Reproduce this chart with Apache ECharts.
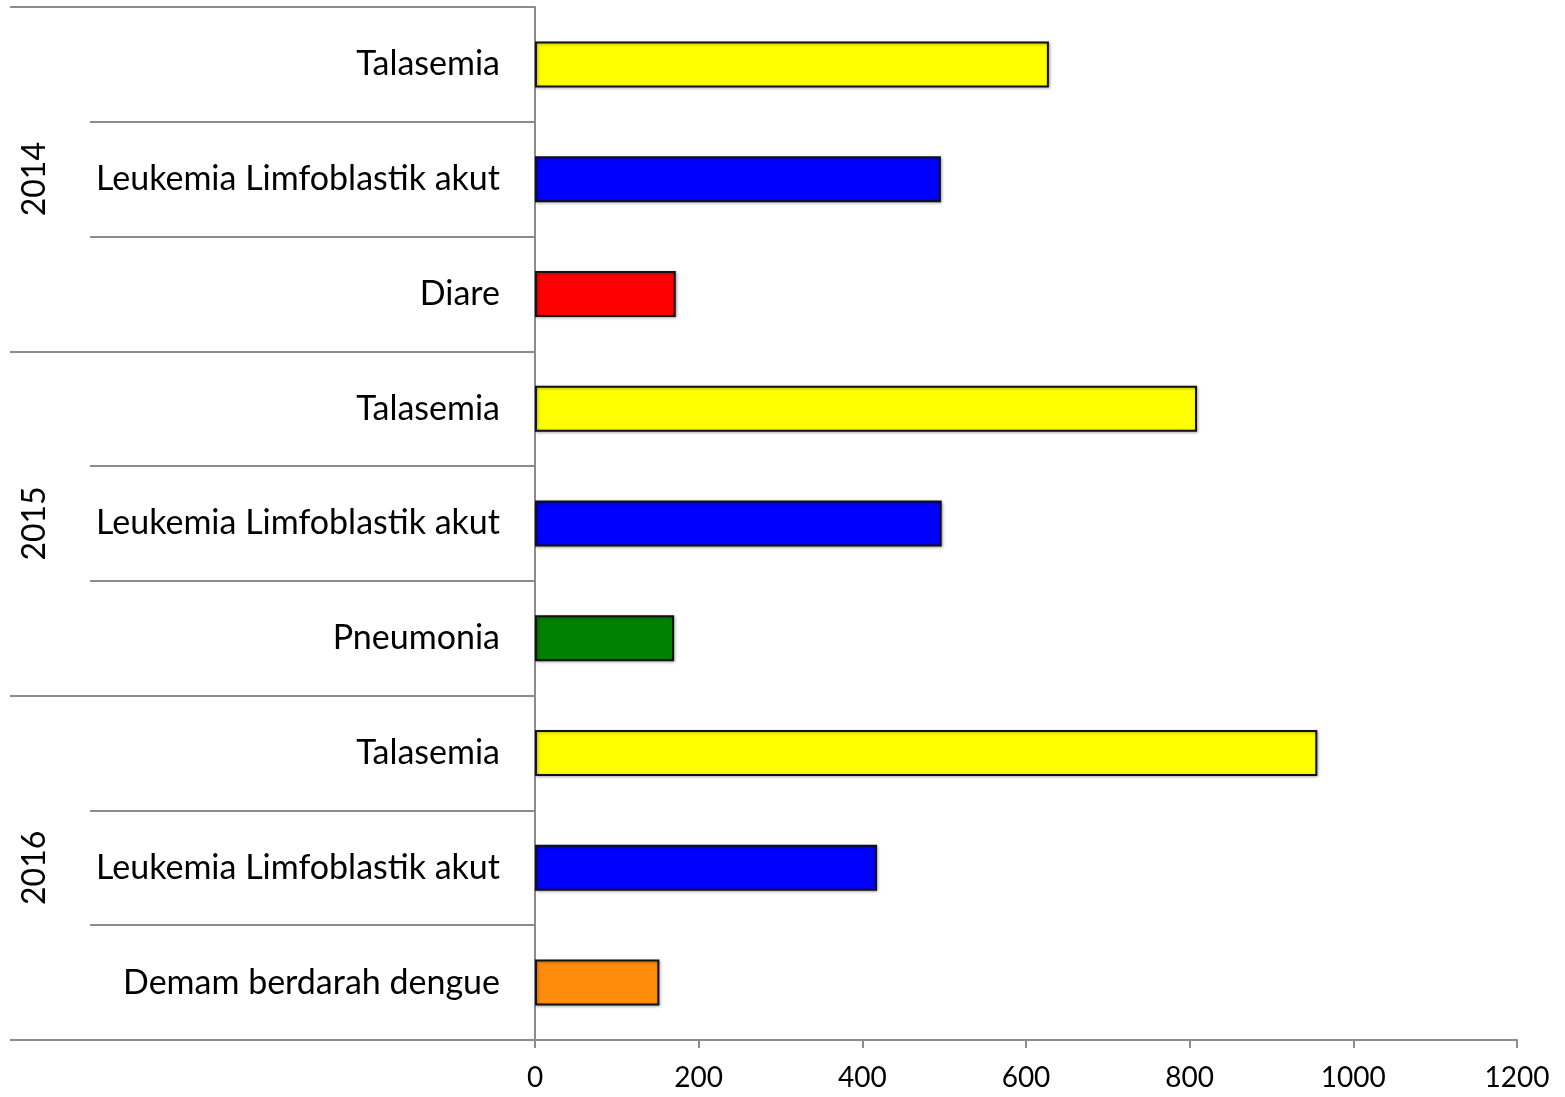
<!DOCTYPE html>
<html>
<head>
<meta charset="utf-8">
<script src="https://cdn.jsdelivr.net/npm/echarts@6/dist/echarts.min.js"></script>
<style>
  html, body { margin: 0; padding: 0; background: #fff; }
  #chart { width: 1565px; height: 1097px; }
</style>
</head>
<body>
<div id="chart"></div>
<script>
  // kategori dari atas ke bawah
  const diseases = [
    'Talasemia', 'Leukemia Limfoblastik akut', 'Diare',
    'Talasemia', 'Leukemia Limfoblastik akut', 'Pneumonia',
    'Talasemia', 'Leukemia Limfoblastik akut', 'Demam berdarah dengue'
  ]
  const years = ['2014', '2015', '2016']
  const cases = [628, 496, 172, 809, 497, 170, 956, 418, 152]
  const barColors = [
    '#ffff00', '#0000ff', '#ff0000',
    '#ffff00', '#0000ff', '#008000',
    '#ffff00', '#0000ff', '#ff8c0a'
  ]
  const xTicks = [0, 200, 400, 600, 800, 1000, 1200]

  const lineGray = '#8c8c8c'
  const font = 'Lato, "Open Sans", sans-serif'

  const myChart = echarts.init(document.getElementById('chart'))

  const option = {
    animation: false,
    backgroundColor: '#fff',
    grid: { left: 535, right: 48, top: 7, bottom: 57 },
    xAxis: {
      type: 'value',
      min: xTicks[0],
      max: xTicks[xTicks.length - 1],
      interval: 200,
      splitLine: { show: false },
      axisLine: { show: true, lineStyle: { color: lineGray, width: 2 } },
      axisTick: { show: true, length: 8, lineStyle: { color: lineGray, width: 2 } },
      axisLabel: {
        color: '#000', fontSize: 28, fontFamily: font, margin: 24,
        formatter: (v) => String(v)
      }
    },
    yAxis: [
      {
        type: 'category',
        inverse: true,
        data: diseases,
        axisLine: { show: true, lineStyle: { color: lineGray, width: 2 } },
        axisTick: { show: true, length: 445, lineStyle: { color: lineGray, width: 2 } },
        axisLabel: { color: '#000', fontSize: 34, fontFamily: font, margin: 35, interval: 0 }
      },
      {
        type: 'category',
        inverse: true,
        position: 'left',
        data: years,
        axisLine: { show: false },
        axisTick: { show: true, length: 525, lineStyle: { color: lineGray, width: 2 } },
        axisLabel: { color: '#000', fontSize: 32, fontFamily: font, margin: 484, rotate: 90, interval: 0 }
      }
    ],
    series: [
      {
        type: 'bar',
        yAxisIndex: 0,
        barWidth: 46,
        data: cases.map((v, i) => ({
          value: v,
          itemStyle: { color: barColors[i] }
        })),
        itemStyle: {
          borderColor: '#111',
          borderWidth: 2,
          shadowColor: 'rgba(0,0,0,0.3)',
          shadowBlur: 3,
          shadowOffsetX: 1,
          shadowOffsetY: 1
        }
      }
    ]
  }

  myChart.setOption(option)
</script>
</body>
</html>
